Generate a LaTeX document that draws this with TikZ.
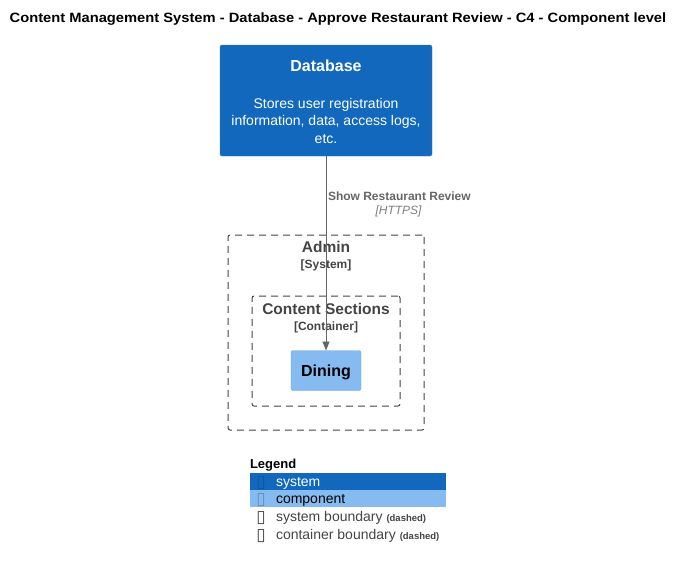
\documentclass[tikz,border=0pt]{standalone}
\usepackage{fontspec}
\setmainfont{Liberation Sans}
\newfontfamily\symfont{DejaVu Sans}
\usetikzlibrary{arrows.meta, positioning}

\definecolor{sysblue}{HTML}{1168BD}
\definecolor{sysline}{HTML}{3C7FC0}
\definecolor{compblue}{HTML}{85BBF0}
\definecolor{compline}{HTML}{78A8D8}
\definecolor{bndgray}{HTML}{444444}
\definecolor{relgray}{HTML}{666666}

\newcommand{\fs}[2]{\fontsize{#1}{#2}\selectfont}

\begin{document}
\begin{tikzpicture}[
    x=1pt, y=-1pt,
    every node/.style = {inner sep=0pt, outer sep=0pt},
    sysbox/.style = {rectangle, rounded corners=2pt, fill=sysblue, draw=sysline,
        minimum width=212pt, minimum height=111pt},
    compbox/.style = {rectangle, rounded corners=2pt, fill=compblue, draw=compline,
        minimum width=70pt, minimum height=40pt},
    bound/.style = {rectangle, rounded corners=2pt, draw=bndgray, line width=1pt,
        dash pattern=on 7pt off 5pt},
    rel/.style = {draw=relgray, line width=0.8pt, -{Triangle[length=9pt,width=7pt]}},
    btitle/.style = {text=bndgray, font=\bfseries\fs{15.5}{18}},
    btype/.style = {text=bndgray, font=\bfseries\fs{12}{14}},
    legrow/.style = {rectangle, anchor=west, minimum width=196pt, minimum height=17pt, fill=#1},
    legtxt/.style = {anchor=base west, font=\fs{14}{16}},
    legicon/.style = {anchor=base, text=#1, font=\symfont\fs{17}{19}}
    ]
    \useasboundingbox (0,0) rectangle (684,568);
    %
    \node (title) [xscale=1.09] at (338,19) {\bfseries\fs{13.5}{15}Content Management System - Database - Approve Restaurant Review - C4 - Component level};
    %
    % database
    \node (db) [sysbox] at (326,100.5) {};
    \node (dbname) [text=white, font=\bfseries\fs{16}{19}] at (326,66) {Database};
    \node (dbdesc) [text=white, align=center, font=\fs{14}{17.5}] at (326,120.5)
        {Stores user registration\\information, data, access logs,\\etc.};
    %
    % boundaries
    \node (admin) [bound, minimum width=196pt, minimum height=195pt] at (326,332.5) {};
    \node (adminname) [btitle] at (326,247) {Admin};
    \node (admintype) [btype] at (326,265) {[System]};
    \node (sections) [bound, minimum width=148pt, minimum height=110pt] at (326,351) {};
    \node (sectname) [btitle] at (326,309) {Content Sections};
    \node (secttype) [btype] at (326,327) {[Container]};
    %
    \node (dining) [compbox] at (326,370.5) {};
    \node (diningname) [font=\bfseries\fs{16}{19}] at (326,372) {Dining};
    %
    \draw[rel] (db.south) -- (dining.north);
    \node (rellabel) [anchor=west, text=relgray, font=\bfseries\fs{12}{14}] at (328,196) {Show Restaurant Review};
    \node (reltech) [text=relgray!85, font=\itshape\fs{12}{14}] at (398.5,211) {[HTTPS]};
    %
    % legend
    \node (legend) [anchor=base west, font=\bfseries\fs{13}{15}] at (250,468.5) {Legend};
    \node (legsys) [legrow=sysblue] at (250,481.5) {};
    \node (legcomp) [legrow=compblue] at (250,498.5) {};
    \node (icsys) [legicon=sysblue!85!black] at (261,487) {▯};
    \node (txsys) [legtxt, text=white] at (276,486.5) {system};
    \node (iccomp) [legicon=compline!85!black] at (261,504) {▯};
    \node (txcomp) [legtxt] at (276,503.5) {component};
    \node (icsb) [legicon=bndgray] at (261,522) {▯};
    \node (txsb) [legtxt, text=bndgray] at (276,521.5) {system boundary {\bfseries\fs{9.5}{11}(dashed)}};
    \node (iccb) [legicon=bndgray] at (261,540) {▯};
    \node (txcb) [legtxt, text=bndgray] at (276,539.5) {container boundary {\bfseries\fs{9.5}{11}(dashed)}};
\end{tikzpicture}
\end{document}
